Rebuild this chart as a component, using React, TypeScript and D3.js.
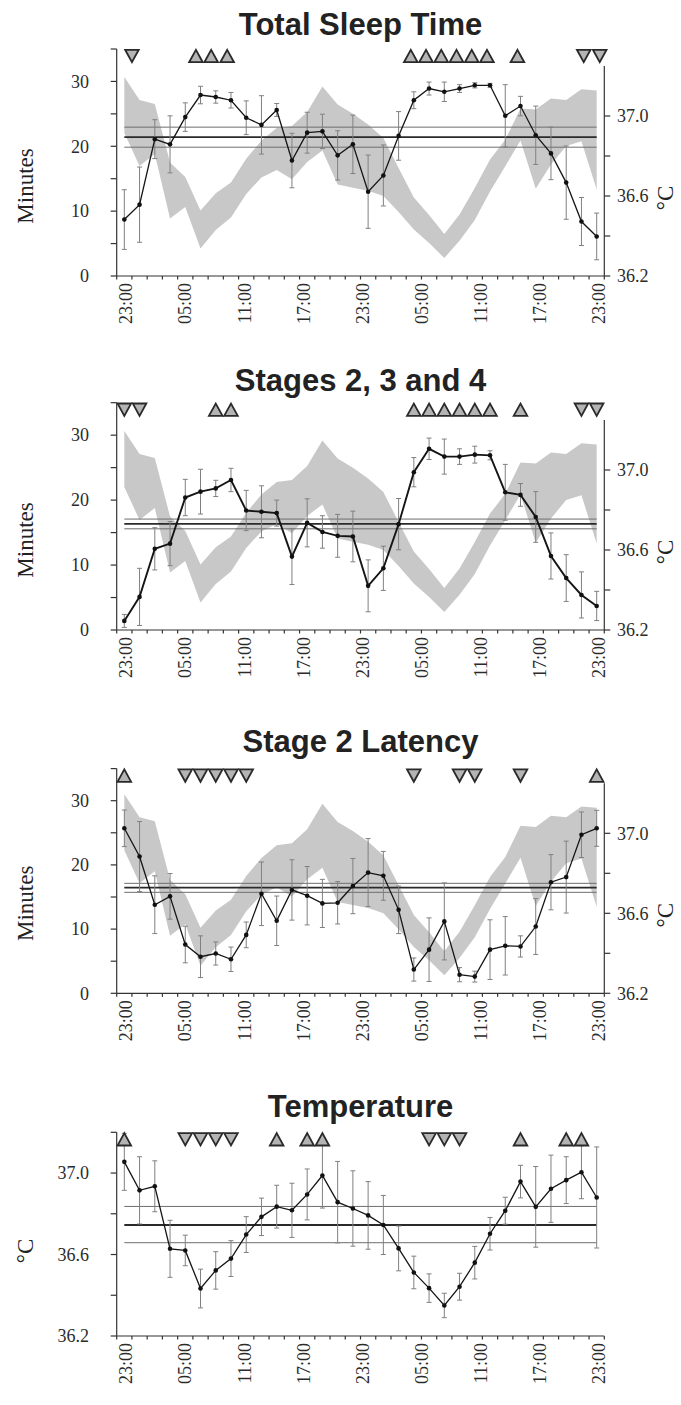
import React from "react";
import * as d3 from "d3";

// clock labels along the x axis (48 h, 32 bins)
const clockLabels = ["23:00", "05:00", "11:00", "17:00", "23:00", "05:00", "11:00", "17:00", "23:00"];

// Total Sleep Time (minutes per bin)
const totalSleep = [8.7, 11.0, 21.1, 20.3, 24.5, 27.9, 27.6, 27.1, 24.4, 23.3, 25.6, 17.8, 22.1, 22.3, 18.6, 20.3,
  13.0, 15.5, 21.6, 27.1, 28.9, 28.4, 28.9, 29.4, 29.4, 24.7, 26.2, 21.7, 18.9, 14.4, 8.4, 6.1];
const totalSleepErr = [4.6, 5.8, 3.0, 4.4, 2.2, 1.35, 0.95, 1.2, 2.6, 4.5, 1.0, 4.2, 3.15, 2.65, 3.8, 4.5,
  5.65, 4.7, 3.75, 1.3, 1.0, 1.5, 0.6, 0.4, 0.3, 4.8, 1.5, 4.5, 4.05, 5.65, 3.7, 3.6];
const totalSleepRef = [21.4, 19.86, 22.95]; // mean, lower, upper

// Stages 2, 3 and 4
const stages = [1.4, 5.1, 12.5, 13.3, 20.4, 21.3, 21.8, 23.1, 18.4, 18.2, 18.0, 11.3, 16.5, 15.1, 14.5, 14.4,
  6.8, 9.5, 16.3, 24.3, 27.9, 26.7, 26.7, 27.0, 26.9, 21.2, 20.8, 17.4, 11.4, 8.0, 5.4, 3.7];
const stagesErr = [1.0, 4.4, 3.25, 3.4, 2.8, 3.45, 1.25, 1.8, 3.1, 4.0, 2.0, 4.3, 3.7, 2.5, 3.3, 3.9,
  4.0, 3.4, 3.95, 2.25, 1.65, 2.7, 1.2, 1.3, 0.7, 4.3, 1.75, 3.9, 3.55, 3.6, 3.55, 2.25];
const stagesRef = [16.35, 15.58, 17.08];

// Stage 2 Latency
const latency = [25.7, 21.3, 13.8, 15.1, 7.6, 5.7, 6.2, 5.3, 9.1, 15.5, 11.3, 16.1, 15.2, 14.0, 14.1, 16.7,
  18.8, 18.3, 13.0, 3.7, 6.8, 11.2, 2.9, 2.6, 6.8, 7.4, 7.3, 10.4, 17.3, 18.1, 24.7, 25.7];
const latencyErr = [2.85, 5.45, 4.5, 3.55, 2.85, 3.25, 1.8, 1.9, 2.0, 4.95, 3.85, 4.7, 4.55, 3.75, 3.3, 4.3,
  5.3, 3.8, 3.7, 1.8, 4.95, 6.0, 1.1, 0.85, 4.65, 4.55, 1.65, 4.35, 4.3, 5.6, 3.55, 2.8];
const latencyRef = [16.45, 15.73, 17.13];

// Temperature (deg C), also the grey band in the sleep panels
const tempMean = [37.055, 36.915, 36.935, 36.628, 36.62, 36.433, 36.522, 36.58, 36.698, 36.785, 36.835, 36.817,
  36.895, 36.988, 36.857, 36.826, 36.792, 36.745, 36.63, 36.512, 36.435, 36.35, 36.442, 36.56, 36.702, 36.815,
  36.958, 36.834, 36.923, 36.965, 37.004, 36.88];
const tempErr = [0.14, 0.165, 0.125, 0.14, 0.075, 0.095, 0.092, 0.088, 0.088, 0.092, 0.105, 0.133, 0.125, 0.16,
  0.2, 0.185, 0.166, 0.145, 0.11, 0.08, 0.07, 0.06, 0.066, 0.08, 0.08, 0.066, 0.08, 0.198, 0.165, 0.115, 0.13, 0.248];
const tempRef = [36.745, 36.658, 36.836];

// significance markers (bin positions)
const totalSleepUp = [4.7, 5.7, 6.75, 18.8, 19.8, 20.8, 21.8, 22.8, 23.8, 25.8];
const totalSleepDown = [0.5, 30.15, 31.2];
const stagesUp = [6, 7, 19, 20, 21, 22, 23, 24, 26];
const stagesDown = [0, 1, 30, 31];
const latencyUp = [0, 31];
const latencyDown = [4, 5, 6, 7, 8, 19, 22, 23, 26];
const tempUp = [0, 10, 12, 13, 26, 29, 30];
const tempDown = [4, 5, 6, 7, 20, 21, 22];

const minuteTicks = [0, 5, 10, 15, 20, 25, 30, 35];
const minuteLabels = [0, 10, 20, 30];
const tempTicks = [36.2, 36.4, 36.6, 36.8, 37.0];
const tempLabels = [36.2, 36.6, 37.0];

const serif = "'Liberation Serif', 'Times New Roman', serif";
const sans = "'Liberation Sans', Arial, sans-serif";

const x = d3.scaleLinear().domain([-0.5, 31.5]).range([116.7, 604.3]);

function tri(cx: number, cy: number, up: boolean) {
  const w = 6.8, h = 6.2;
  return up
    ? `M${cx - w},${cy + h}L${cx + w},${cy + h}L${cx},${cy - h}Z`
    : `M${cx - w},${cy - h}L${cx + w},${cy - h}L${cx},${cy + h}Z`;
}

function Panel({ title, top, bottom, titleY, values, err, refs, up, down, temp, lineWidth }: any) {
  const n = values.length;
  const idx = d3.range(n);
  const y = temp
    ? d3.scaleLinear().domain([36.2, 37.2]).range([bottom, top])
    : d3.scaleLinear().domain([0, 35]).range([bottom, top]);
  const yT = d3.scaleLinear().domain([36.2, 37.25]).range([bottom, bottom - 210]);
  const x0 = x.range()[0];
  const x1 = x.range()[1];

  const band = d3.area<number>()
    .x(i => x(i))
    .y0(i => yT(tempMean[i] - tempErr[i]))
    .y1(i => yT(tempMean[i] + tempErr[i]));
  const line = d3.line<number>().x(i => x(i)).y(i => y(values[i]));

  const leftTicks = temp ? d3.range(36.2, 37.21, 0.2) : minuteTicks;
  const leftLabels = temp ? tempLabels : minuteLabels;
  const fmt = temp ? d3.format(".1f") : d3.format("d");
  const markY = top + 7;

  return (
    <g>
      <text x={(x0 + x1) / 2} y={titleY} textAnchor="middle" fontFamily={sans} fontWeight="bold"
        fontSize={31} fill="#222">{title}</text>

      {!temp && <path d={band(idx) || ""} fill="#c8c8c8" />}

      {/* reference lines: lower, upper thin, mean thick */}
      {[refs[1], refs[2]].map((v: number, k: number) => (
        <line key={k} x1={x(0)} x2={x(n - 1)} y1={y(v)} y2={y(v)} stroke="#6e6e6e" strokeWidth={1} />
      ))}
      <line x1={x(0)} x2={x(n - 1)} y1={y(refs[0])} y2={y(refs[0])} stroke="#2a2a2a" strokeWidth={1.8} />

      {/* error bars */}
      {idx.map(i => (
        <g key={i} stroke="#808080" strokeWidth={1}>
          <line x1={x(i)} x2={x(i)} y1={y(values[i] - err[i])} y2={y(values[i] + err[i])} />
          <line x1={x(i) - 2.5} x2={x(i) + 2.5} y1={y(values[i] - err[i])} y2={y(values[i] - err[i])} />
          <line x1={x(i) - 2.5} x2={x(i) + 2.5} y1={y(values[i] + err[i])} y2={y(values[i] + err[i])} />
        </g>
      ))}
      <path d={line(idx) || ""} fill="none" stroke="#151515" strokeWidth={lineWidth} />
      {idx.map(i => <circle key={i} cx={x(i)} cy={y(values[i])} r={2.3} fill="#111" />)}

      {/* markers */}
      {up.map((p: number, k: number) => (
        <path key={"u" + k} d={tri(x(p), markY, true)} fill="#b4b4b4" stroke="#2a2a2a" strokeWidth={1.8} />
      ))}
      {down.map((p: number, k: number) => (
        <path key={"d" + k} d={tri(x(p), markY, false)} fill="#b4b4b4" stroke="#2a2a2a" strokeWidth={1.8} />
      ))}

      {/* axes */}
      <g stroke="#333" strokeWidth={1.2}>
        <line x1={x0} x2={x0} y1={top} y2={bottom} />
        {leftTicks.map((t: number) => <line key={t} x1={x0 - 6} x2={x0} y1={y(t)} y2={y(t)} />)}
        <line x1={x0} x2={x1} y1={bottom} y2={bottom} />
        {d3.range(33).map(j => <line key={j} x1={x(j - 0.5)} x2={x(j - 0.5)} y1={bottom} y2={bottom + 3.5} />)}
        {!temp && <line x1={x1} x2={x1} y1={bottom - 210} y2={bottom} />}
        {!temp && tempTicks.map(t => <line key={t} x1={x1} x2={x1 + 6} y1={yT(t)} y2={yT(t)} />)}
      </g>
      {leftLabels.map((t: number) => (
        <text key={t} x={89} y={y(t)} dy="0.35em" textAnchor="end" fontFamily={serif} fontSize={18} fill="#2b2b2b">{fmt(t)}</text>
      ))}
      {!temp && tempLabels.map(t => (
        <text key={t} x={617} y={yT(t)} dy="0.35em" textAnchor="start" fontFamily={serif} fontSize={18} fill="#2b2b2b">{t.toFixed(1)}</text>
      ))}
      {clockLabels.map((lab, k) => {
        const px = x((31 * k) / 8);
        return (
          <text key={k} transform={`translate(${px},${bottom + 7}) rotate(-90)`} dy="0.45em" textAnchor="end"
            fontFamily={serif} fontSize={18} fill="#2b2b2b">{lab}</text>
        );
      })}

      {/* axis titles */}
      <text transform={`translate(33,${bottom - (temp ? 85 : 90)}) rotate(-90)`} textAnchor="middle"
        fontFamily={serif} fontSize={23} fill="#222">{temp ? "°C" : "Minutes"}</text>
      {!temp && (
        <text transform={`translate(673,${bottom - 78}) rotate(-90)`} textAnchor="middle"
          fontFamily={serif} fontSize={23} fill="#222">°C</text>
      )}
    </g>
  );
}

export default function App() {
  return (
    <svg width={681} height={1405} style={{ position: "absolute", left: 0, top: 0, background: "#fff" }}>
      <rect width={681} height={1405} fill="#fff" />
      <Panel title="Total Sleep Time" top={49} bottom={276} titleY={34.5} values={totalSleep} err={totalSleepErr}
        refs={totalSleepRef} up={totalSleepUp} down={totalSleepDown} lineWidth={1.3} />
      <Panel title="Stages 2, 3 and 4" top={402.7} bottom={630} titleY={390.5} values={stages} err={stagesErr}
        refs={stagesRef} up={stagesUp} down={stagesDown} lineWidth={1.9} />
      <Panel title="Stage 2 Latency" top={768.6} bottom={993.3} titleY={752} values={latency} err={latencyErr}
        refs={latencyRef} up={latencyUp} down={latencyDown} lineWidth={1.3} />
      <Panel title="Temperature" top={1132.3} bottom={1336} titleY={1116.5} values={tempMean} err={tempErr}
        refs={tempRef} up={tempUp} down={tempDown} temp lineWidth={1.3} />
    </svg>
  );
}
